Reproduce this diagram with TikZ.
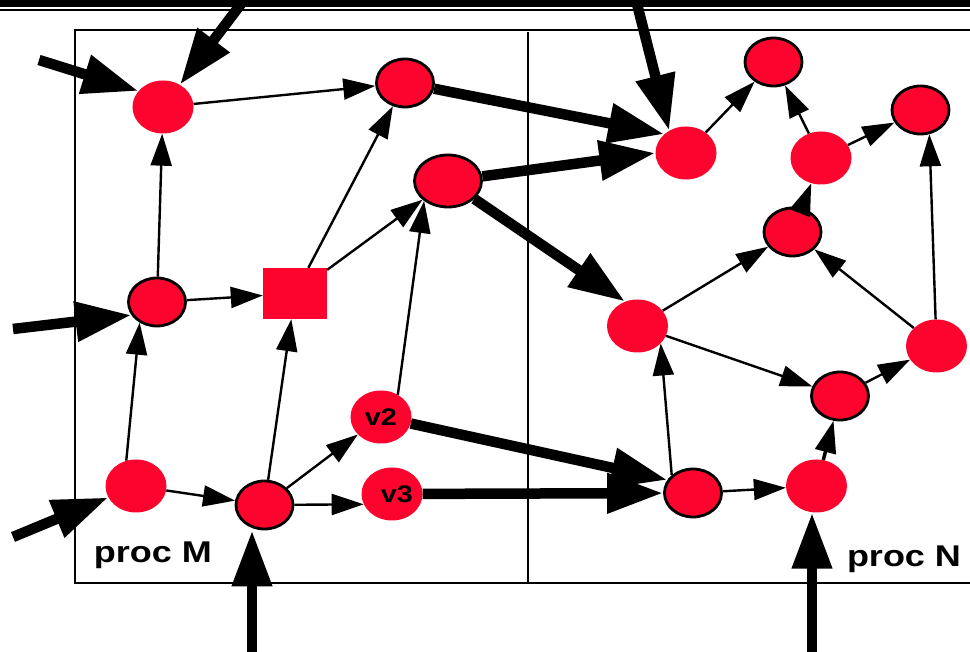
\documentclass[tikz,border=0pt]{standalone}
\usepackage{fontspec}
\usepackage{tikz}
\usetikzlibrary{arrows.meta,shapes.geometric}
\newfontfamily\labelfont[FakeStretch=1.2]{Liberation Sans}
\definecolor{nodered}{RGB}{252,4,46}

\begin{document}
\begin{tikzpicture}[x=1pt,y=1pt,
  redball/.style={ellipse,fill=nodered,draw=none,inner sep=0pt,minimum width=61pt,minimum height=53pt},
  ringball/.style={redball,draw=black,line width=2.8pt,minimum width=57pt,minimum height=48pt},
  vlabel/.style={font=\labelfont\bfseries\fontsize{24}{24}\selectfont},
  proclabel/.style={anchor=base,font=\labelfont\bfseries\fontsize{30}{30}\selectfont},
  wire/.style={line width=2.4pt,-{Triangle[length=32pt,width=21pt]}},
  bulk/.style={line width=10.5pt,-{Triangle[length=56pt,width=38pt]}}]
\useasboundingbox (0,0) rectangle (970,652);
% Drawing frame
\fill (0,645.3) rectangle (970,652);
\draw[line width=2.2pt] (0,642) -- (970,642);
\draw[line width=2.2pt] (970,622) -- (75,622) -- (75,69) -- (970,69);
\draw[line width=2.2pt] (528,620) -- (528,69);
\node[proclabel] (procm) at (153,89) {proc M};
\node[proclabel] (procn) at (904,85) {proc N};
% Done with frame; drawing nodes of proc M
\node[redball] (m1) at (163,545) {};
\node[ringball] (m2) at (405,569) {};
\node[ringball,minimum width=67pt,minimum height=52pt] (m3) at (448,471) {};
\node[ringball] (m4) at (157,350) {};
\node[fill=nodered,inner sep=0pt,minimum width=64pt,minimum height=51pt] (m5) at (295,358.5) {};
\node[redball] (m6) at (136,166) {};
\node[ringball] (m7) at (264.5,147) {};
\node[redball,vlabel] (v2) at (381,235) {v2};
\node[redball,vlabel] (v3) at (392,158) {\hspace{10pt}v3};
% Nodes of proc N
\node[redball] (n1) at (686,499) {};
\node[ringball] (n2) at (773.5,590) {};
\node[redball] (n3) at (821,494) {};
\node[ringball] (n4) at (920.5,542) {};
\node[ringball] (n5) at (792.5,420) {};
\node[redball] (n6) at (637.5,326) {};
\node[redball] (n7) at (936.5,306) {};
\node[ringball] (n8) at (840,256) {};
\node[ringball] (n9) at (693,159) {};
\node[redball] (n10) at (816.5,166) {};
% Done with nodes; drawing incoming messages
\coordinate (ta) at (244,652);
\coordinate (la) at (39,592);
\coordinate (tc) at (636,652);
\coordinate (li) at (13,323);
\coordinate (lp) at (13,115);
\coordinate (bq) at (252,0);
\coordinate (bo) at (812,0);
\draw[bulk] (ta) -- (m1);
\draw[bulk] (la) -- (m1.147);
\draw[bulk] (li) -- (m4.207);
\draw[bulk] (lp) -- (m6);
\draw[bulk] (bq) -- (bq |- m7.south);
\draw[bulk] (bo) -- (bo |- n10.south);
\draw[bulk] (tc) -- (n1.127);
% Messages from M to N
\draw[bulk] (m2) -- (n1.139);
\draw[bulk] (m3) -- (n1.west);
\draw[bulk] (m3) -- (n6.117);
\draw[bulk] (v2) -- (n9.153);
\draw[bulk] (v3) -- (n9);
% Local edges of proc M
\draw[wire] (m1) -- (m2);
\draw[wire] (m4) -- (m1);
\draw[wire] (m4) -- (m5);
\draw[wire] (m6.111) -- (m4.230);
\draw[wire] (m6) -- (m7);
\draw[wire] (m7) -- (m5);
\draw[wire] (m7) -- (v2);
\draw[wire] (m7) -- (v3.200);
\draw[wire] (m5) -- (m2);
\draw[wire] (m5) -- (m3);
\draw[wire] (v2.53) -- (m3.220);
% Local edges of proc N
\draw[wire] (n1) -- (n2);
\draw[wire] (n3) -- (n2);
\draw[wire] (n3) -- (n4);
\draw[wire,line width=3.5pt] (n5) -- (n3);
\draw[wire] (n6) -- (n5);
\draw[wire] (n7) -- (n5);
\draw[wire] (n7) -- (n4.290);
\draw[wire] (n6) -- (n8);
\draw[wire] (n8) -- (n7);
\draw[wire] (n9.140) -- (n6.323);
\draw[wire] (n9) -- (n10);
\draw[wire,line width=3.5pt] (n10) -- (n8);
\end{tikzpicture}
\end{document}
